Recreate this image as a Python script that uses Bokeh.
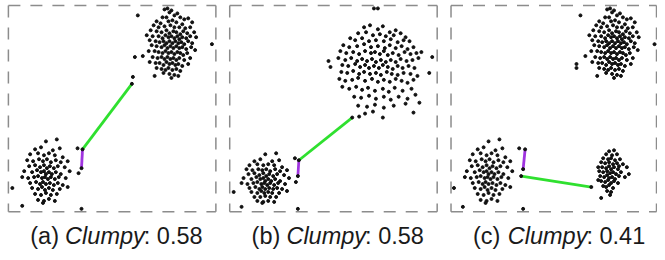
from bokeh.plotting import figure
from bokeh.models import Range1d
from bokeh.embed import file_html
from bokeh.resources import INLINE
from bokeh.core.properties import value

# ---------------- data (panel-local pixel coords, y downward, box 0..210) -------------
# upper-right cluster shared by panels (a) and (c)
TOP_PTS = [(158,4),(161,3),(165,5),(163,7),(171,8),(168,10),(156,12),(160,12),(174,12),(178,14),
           (182,13),(150,16),(154,18),(162,16),(166,15),(170,17),(176,19),(186,17),(147,20),(152,22),
           (158,21),(164,20),(168,22),(173,22),(179,23),(184,22),(144,25),(150,26),(155,27),(160,25),
           (163,28),(167,26),(170,27),(174,29),(177,26),(181,28),(188,27),(140,30),(146,31),(152,31),
           (156,33),(159,30),(162,32),(165,31),(168,33),(171,31),(173,34),(176,32),(180,33),(184,31),
           (190,32),(143,35),(149,36),(153,37),(157,36),(160,38),(163,36),(166,38),(169,36),(172,38),
           (175,37),(178,39),(182,36),(186,38),(145,40),(150,41),(155,42),(158,40),(161,43),(164,41),
           (167,43),(170,41),(173,43),(176,42),(180,44),(185,42),(189,45),(142,46),(148,46),(152,47),
           (156,48),(159,46),(162,48),(165,47),(168,49),(171,47),(174,48),(177,50),(181,48),(136,51),
           (146,52),(151,53),(155,52),(158,54),(161,52),(164,54),(167,53),(170,55),(173,53),(178,55),
           (184,53),(143,57),(149,58),(153,58),(157,60),(160,57),(163,59),(166,58),(169,60),(172,59),
           (176,61),(182,59),(150,63),(155,64),(159,65),(162,63),(166,65),(170,64),(174,66),(157,68),
           (163,69),(168,70),(172,71),(148,71),(165,73),(131,10),(206,39)]
A_EXTRA = [(128,52),(126,72),(70,144),(71,169),(74,205),(14,202),(4,184),
           (125,79),(75,145),(74,164)]
C_EXTRA = [(127,59),(127,63),(69,144),(73,205),(12,203),(3,184),
           (75,145),(73,165),(71,172),(142,183),(152,194)]

# lower-left cluster shared by panels (a) and (c)
LOW_PTS = [(38,137),(49,135),(27,145),(33,143),(45,146),(52,144),(22,150),(30,149),(36,151),(41,149),
           (47,151),(55,153),(19,156),(25,157),(31,155),(35,157),(39,155),(43,158),(48,156),(53,158),
           (60,157),(21,162),(27,161),(32,163),(36,161),(39,164),(42,162),(46,164),(50,162),(57,163),
           (16,167),(24,168),(29,166),(33,168),(36,167),(38,170),(41,168),(44,170),(48,168),(53,170),
           (62,167),(14,173),(20,174),(26,173),(30,172),(34,174),(37,173),(40,175),(43,173),(47,175),
           (51,173),(58,174),(22,179),(28,178),(32,180),(35,178),(38,180),(42,179),(46,181),(50,179),
           (55,181),(24,184),(30,185),(34,183),(37,186),(41,184),(45,186),(52,185),(60,183),(27,190),
           (33,191),(38,189),(43,191),(49,190),(30,196),(36,197),(41,195),(47,197),(35,199)]

# panel (b)
B_TOP_PTS = [(146,3),(150,3),(136,22),(142,20),(150,24),(155,21),(162,27),(168,25),(130,28),(138,27),
             (145,30),(152,29),(158,31),(166,30),(173,28),(178,32),(122,33),(127,35),(134,33),(141,36),
             (148,35),(156,36),(163,34),(170,37),(176,35),(182,36),(115,40),(121,42),(129,41),(136,39),
             (143,42),(150,41),(157,43),(162,40),(168,43),(174,41),(180,44),(186,42),(112,46),(118,48),
             (125,47),(131,49),(137,46),(143,48),(147,47),(152,49),(156,46),(160,50),(165,48),(171,50),
             (177,47),(183,49),(189,48),(194,47),(100,56),(110,53),(117,55),(123,53),(129,56),(134,54),
             (139,56),(144,54),(148,57),(153,55),(158,57),(163,55),(168,57),(173,54),(179,56),(185,55),
             (191,53),(205,52),(102,62),(114,60),(120,61),(127,59),(132,62),(137,60),(141,63),(146,61),
             (151,63),(155,60),(160,62),(165,64),(170,61),(175,63),(181,61),(187,63),(202,68),(113,67),
             (119,68),(125,66),(131,69),(136,67),(142,69),(148,68),(153,70),(159,67),(164,69),(170,70),
             (176,68),(183,69),(190,71),(111,74),(117,76),(124,75),(130,73),(137,76),(144,74),(150,77),
             (156,75),(162,77),(168,74),(174,76),(180,78),(186,75),(114,82),(121,84),(128,82),(134,85),
             (140,83),(147,86),(155,84),(161,87),(167,83),(175,86),(184,84),(126,92),(133,93),(141,91),
             (148,94),(156,92),(163,95),(171,92),(180,94),(188,90),(130,101),(139,102),(147,100),(156,103),
             (166,101),(178,99),(137,109),(145,107),(131,112),(155,113),(186,108),(192,98)]
B_LOW_PTS = [(36,150),(47,149),(25,157),(31,155),(43,157),(50,156),(20,161),(28,160),(34,161),(39,160),
             (45,161),(53,163),(17,165),(23,166),(29,165),(33,166),(37,165),(41,167),(46,165),(51,167),
             (58,166),(19,170),(25,169),(30,171),(34,169),(37,172),(40,170),(44,172),(48,170),(55,171),
             (14,174),(22,175),(27,173),(31,175),(34,174),(36,177),(39,175),(42,177),(46,175),(51,177),
             (60,174),(12,179),(18,180),(24,179),(28,178),(32,180),(35,179),(38,181),(41,179),(45,181),
             (49,179),(56,180),(20,184),(26,183),(30,185),(33,183),(36,185),(40,184),(44,185),(48,184),
             (53,185),(22,188),(28,189),(32,187),(35,189),(39,188),(43,189),(50,189),(58,187),(25,193),
             (31,193),(36,192),(41,193),(47,193),(28,197),(34,198),(39,197),(45,198),(33,199)]
B_EXTRA = [(69,205),(12,203),(4,188),(66,154),(67,178),(124,113),(70,156),(69,172)]

# panel (c) lower-right cluster
C_RIGHT_PTS = [(160,147),(165,146),(157,150),(163,151),(168,150),(154,154),(159,155),(162,154),(166,156),
               (171,155),(152,158),(156,159),(160,158),(164,160),(168,159),(174,160),(149,163),(153,163),
               (157,164),(160,162),(162,165),(165,163),(169,165),(178,163),(150,167),(154,168),(158,167),
               (161,169),(164,168),(167,170),(172,168),(180,170),(151,172),(155,173),(158,171),(160,174),
               (163,173),(166,175),(170,172),(176,173),(152,177),(156,178),(159,176),(162,179),(165,177),
               (169,179),(154,182),(157,183),(160,181),(164,184),(158,187),(162,188),(161,191),(149,176),
               (170,162)]

# connecting segments: (x0, y0, x1, y1)
GREEN_SEGS = [(125, 79, 75, 145), (124, 113, 70, 156), (71, 172, 142, 183)]
PURPLE_SEGS = [(75, 145, 74, 164), (70, 156, 69, 172), (75, 145, 73, 165)]

LABELS = ["(a)", "(b)", "(c)"]
MEASURE = "Clumpy"
SCORES = ["0.58", "0.58", "0.41"]

PANEL_POINTS = [TOP_PTS + LOW_PTS + A_EXTRA,
                B_TOP_PTS + B_LOW_PTS + B_EXTRA,
                TOP_PTS + LOW_PTS + C_RIGHT_PTS + C_EXTRA]

# ---------------- layout (data space = reference picture pixels) ----------------
W, H = 657, 252
OX = [8, 232, 456]
OY = 9
BW = [210, 210, 208]
BH = 208

p = figure(width=W, height=H, output_backend="svg", toolbar_location=None,
           x_range=Range1d(0, 665), y_range=Range1d(258, 4),
           x_axis_location=None, y_axis_location=None, min_border=0)
p.grid.visible = False
p.outline_line_color = None
p.background_fill_color = "white"
p.border_fill_color = "white"

FONT = value("Liberation Sans")
FS = 23.5
for i in range(3):
    ox = OX[i]
    x0, x1, y0, y1 = ox, ox + BW[i], OY, OY + BH
    p.multi_line(xs=[[x0, x1], [x0, x0], [x0, x1], [x1, x1]],
                 ys=[[y0, y0], [y0, y1], [y1, y1], [y0, y1]],
                 line_color="#8c8c8c", line_width=1.5, line_dash="12 10")

    g = GREEN_SEGS[i]
    p.line([g[0] + ox, g[2] + ox], [g[1] + OY, g[3] + OY], line_color="#2fe02f", line_width=2.8)
    pu = PURPLE_SEGS[i]
    p.line([pu[0] + ox, pu[2] + ox], [pu[1] + OY, pu[3] + OY], line_color="#a034e0", line_width=2.8)

    pts = PANEL_POINTS[i]
    p.scatter([q[0] + ox for q in pts], [q[1] + OY for q in pts],
              size=3.0, color="#111111", marker="circle")

    # caption: "(a) " + italic "Clumpy" + ": 0.58"
    w1 = 1.5 * FS
    w2 = 3.389 * FS
    w3 = 2.502 * FS
    cx = ox + 109
    sx = cx - (w1 + w2 + w3) / 2
    ymid = 241
    common = dict(text_font=FONT, text_font_size=f"{FS}px", text_color="#1a1a1a",
                  text_baseline="middle", text_align="left")
    p.text(x=[sx], y=[ymid], text=[LABELS[i]], **common)
    p.text(x=[sx + w1], y=[ymid], text=[MEASURE], text_font_style="italic", **common)
    p.text(x=[sx + w1 + w2], y=[ymid], text=[": " + SCORES[i]], **common)

open("out.html", "w").write(file_html(p, INLINE))
